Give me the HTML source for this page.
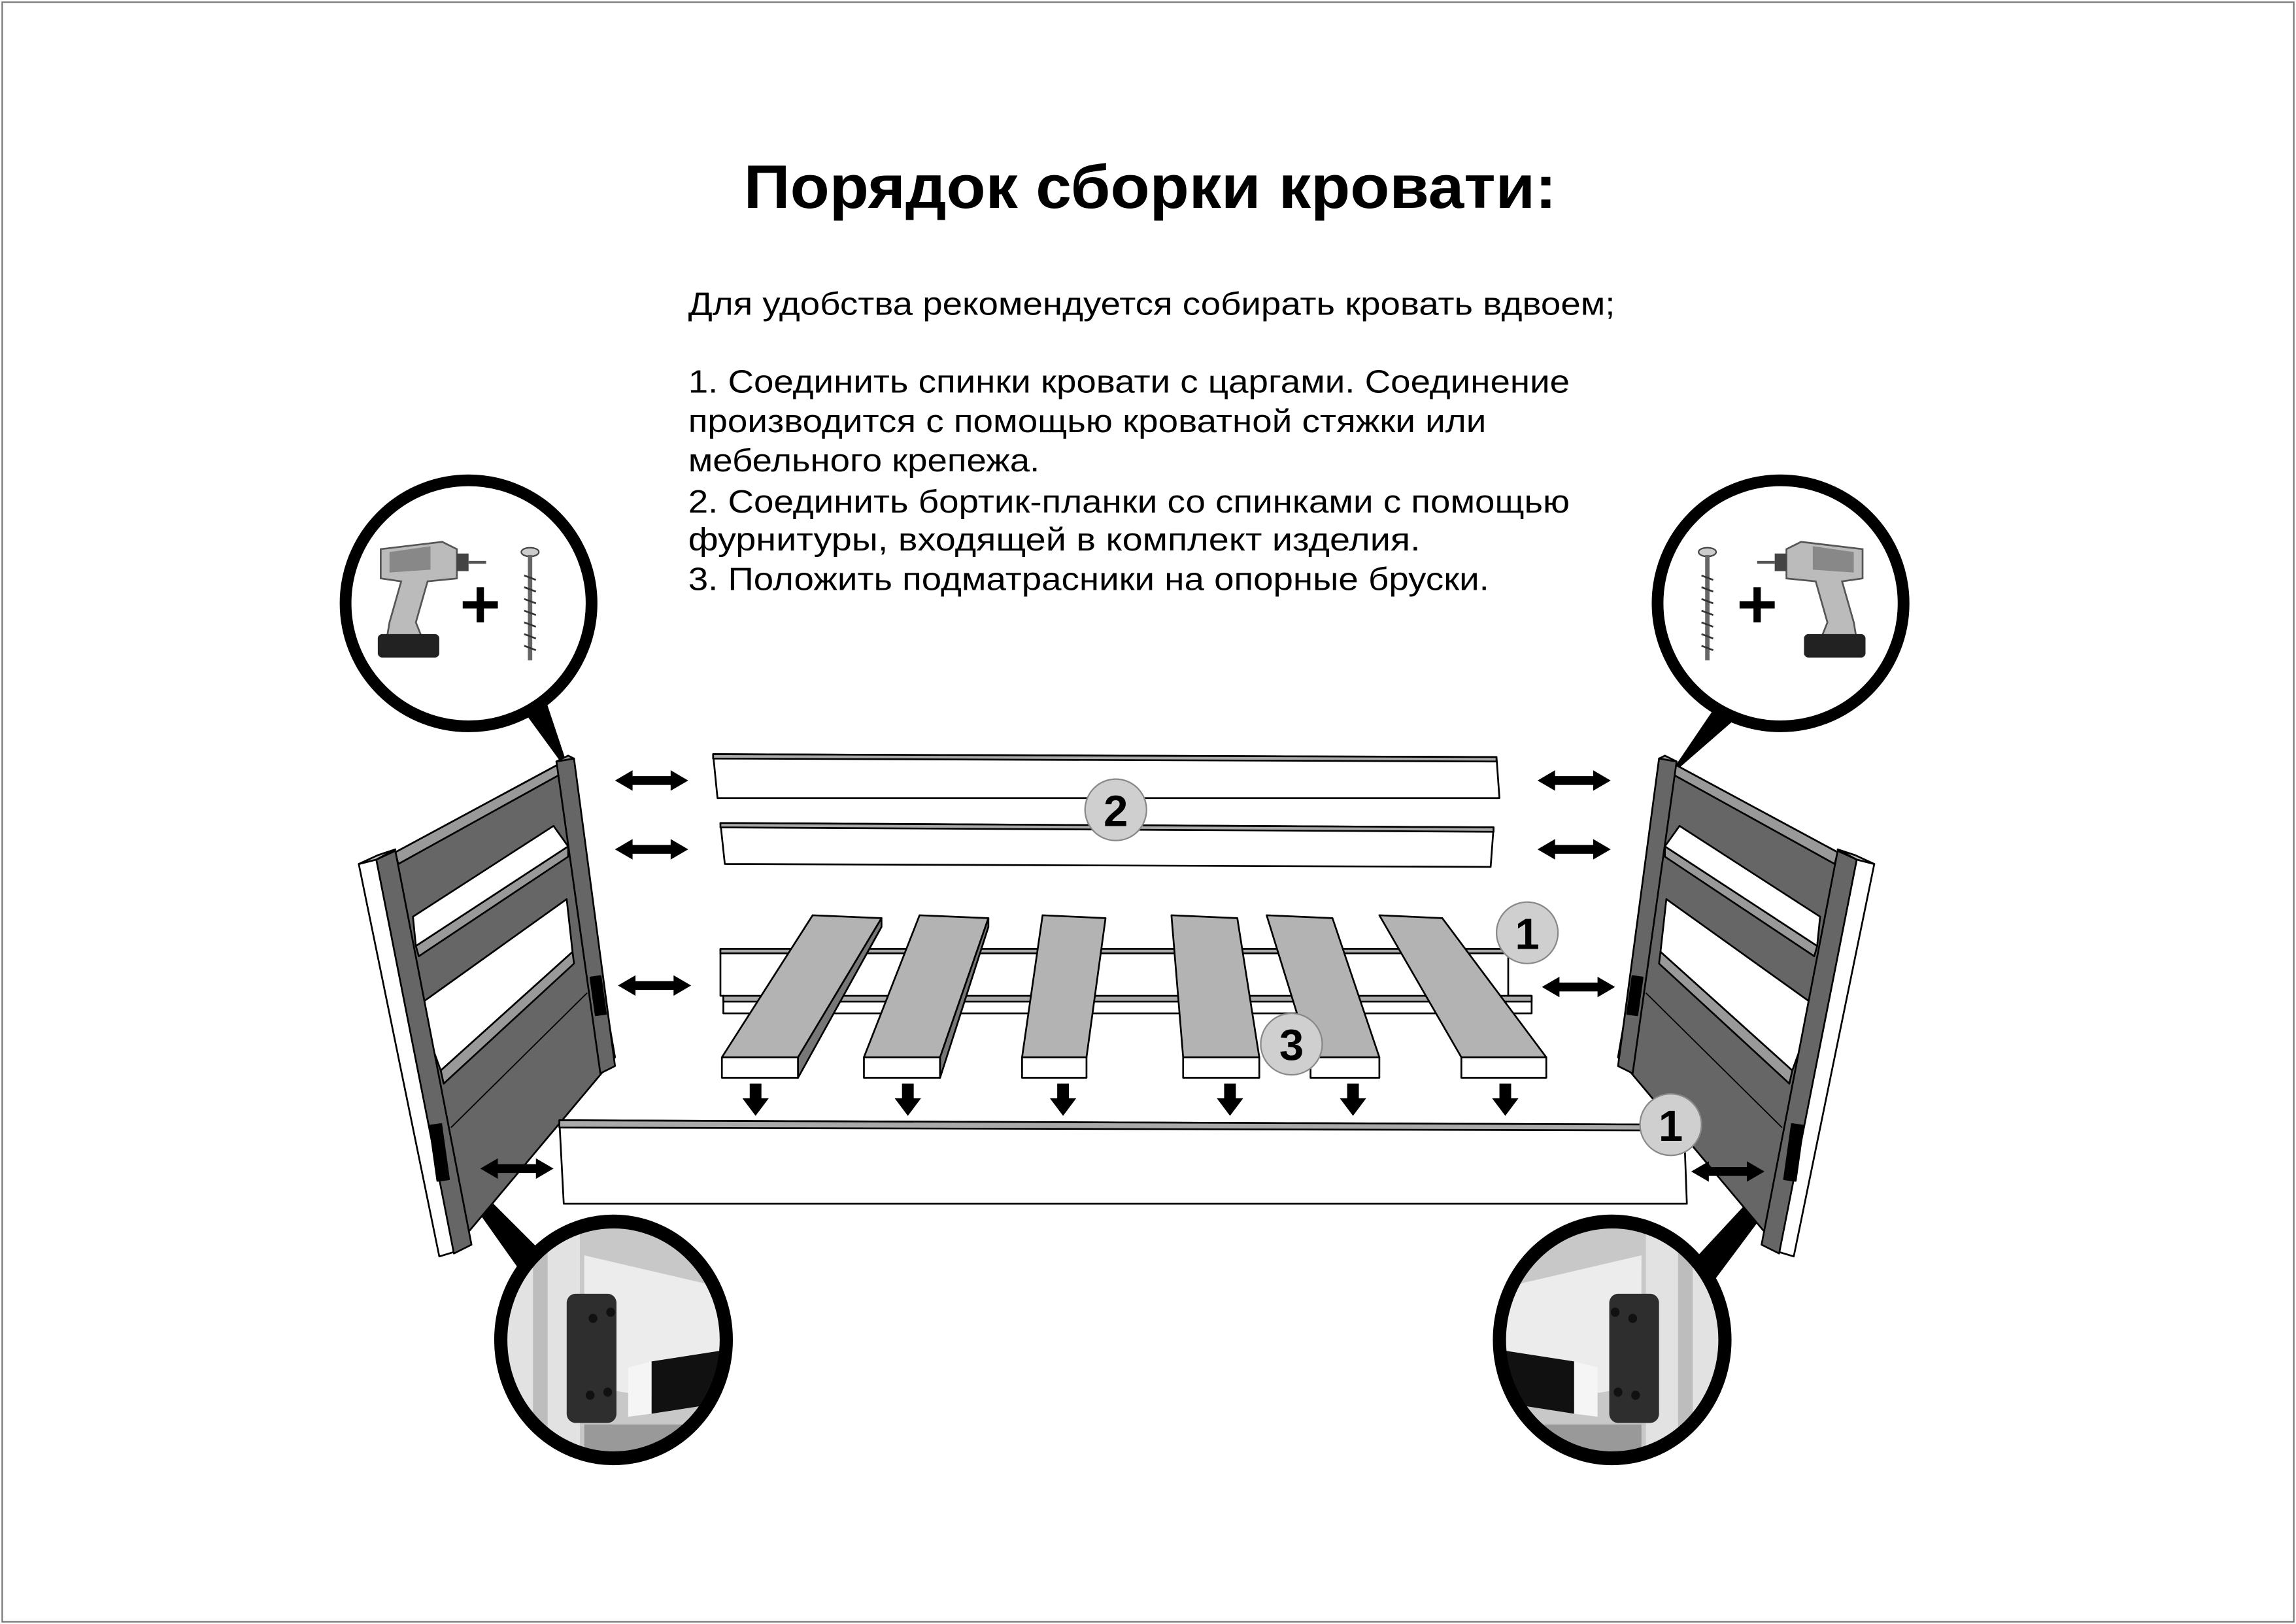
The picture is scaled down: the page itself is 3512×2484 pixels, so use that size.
<!DOCTYPE html>
<html><head><meta charset="utf-8"><style>
html,body{margin:0;padding:0;background:#fff}
svg{display:block}
text{font-family:"Liberation Sans",Arial,sans-serif}
</style></head><body>
<svg width="3512" height="2484" viewBox="0 0 1568 1109" xmlns="http://www.w3.org/2000/svg">
<defs>
<clipPath id="cc"><circle r="77"/></clipPath>
<g id="dbl"><path d="M0,0 L12,-7 L12,-3 L38,-3 L38,-7 L50,0 L38,7 L38,3 L12,3 L12,7 Z" fill="#000"/></g>
<g id="down"><path d="M-4,0 L4,0 L4,10 L9,10 L0,22 L-9,10 L-4,10 Z" fill="#000"/></g>
<g id="headboard" stroke="#000" stroke-width="1.2" stroke-linejoin="round">
  <polygon points="270,582 385,520 420,722 321,840 305,855 257,588" fill="#666"/>
  <polygon points="282,626 378,564 388,578 284,646" fill="#fff"/>
  <polygon points="285,687 387,614 391,650 301,731" fill="#fff"/>
  <polygon points="270,582 385,520 384,528 272,590" fill="#999"/>
  <polygon points="284,646 388,578 388,585 286,653" fill="#999"/>
  <polygon points="301,731 391,650 392,658 303,740" fill="#999"/>
  <line x1="308" y1="770" x2="401" y2="678" stroke-width="0.8"/>
  <polygon points="245,590 257,587 310,855 300,858" fill="#fff"/>
  <polygon points="245,590 258,584 270,580 257,587" fill="#bbb"/>
  <polygon points="257,587 270,581 322,850 310,856" fill="#666"/>
  <polygon points="380,520 392,518 420,728 410,733" fill="#666"/>
  <polygon points="380,520 388,516 392,518" fill="#999"/>
  <rect x="405" y="667" width="7" height="26" fill="#000" transform="rotate(-8 408 680)"/>
  <rect x="296" y="768" width="8" height="38" fill="#000" transform="rotate(-8 300 787)"/>
</g>
<g id="drill">
  <path d="M-62,-40 L-20,-45 L-10,-40 L-10,-20 L-30,-18 L-38,10 L-34,20 L-58,22 L-56,10 L-48,-18 L-62,-20 Z" fill="#bbb" stroke="#555" stroke-width="1.2"/>
  <rect x="-64" y="18" width="42" height="16" rx="3" fill="#222"/>
  <rect x="-10" y="-37" width="8" height="12" fill="#444"/>
  <line x1="-2" y1="-31" x2="10" y2="-31" stroke="#555" stroke-width="2"/>
  <path d="M-56,-38 L-28,-42 L-28,-26 L-56,-24Z" fill="#888"/>
</g>
<g id="screw">
  <ellipse cx="0" cy="-36" rx="6" ry="3" fill="#ccc" stroke="#444"/>
  <line x1="0" y1="-34" x2="0" y2="38" stroke="#666" stroke-width="3"/>
  <path d="M-4,-20 L4,-17 M-4,-12 L4,-9 M-4,-4 L4,-1 M-4,4 L4,7 M-4,12 L4,15 M-4,20 L4,23 M-4,28 L4,31" stroke="#333" stroke-width="1.2"/>
</g>
<g id="plus"><path d="M-12,-2.5 L12,-2.5 L12,2.5 L-12,2.5Z M-2.5,-12 L2.5,-12 L2.5,12 L-2.5,12Z" fill="#000"/></g>
<g id="photo">
  <g clip-path="url(#cc)">
  <rect x="-90" y="-90" width="180" height="180" fill="#c8c8c8"/>
  <rect x="-75" y="-80" width="52" height="170" fill="#e2e2e2"/>
  <rect x="-55" y="-80" width="10" height="170" fill="#bdbdbd"/>
  <polygon points="-20,-55 70,-35 80,45 -20,30" fill="#ececec"/>
  <rect x="-32" y="-30" width="34" height="84" rx="6" fill="#2e2e2e"/>
  <circle cx="-14" cy="-14" r="3" fill="#111"/><circle cx="-2" cy="-18" r="3" fill="#111"/>
  <circle cx="-16" cy="36" r="3" fill="#111"/><circle cx="-4" cy="34" r="3" fill="#111"/>
  <polygon points="10,18 26,14 26,48 10,50" fill="#f5f5f5"/>
  <polygon points="26,14 80,6 80,40 26,48" fill="#111"/>
  <rect x="-20" y="55" width="100" height="40" fill="#999"/>
  </g>
</g>
</defs>

<rect x="1.5" y="1.5" width="1565" height="1106" fill="#fff" stroke="#777" stroke-width="1"/>

<text x="508" y="142" font-size="42" font-weight="bold" textLength="555" lengthAdjust="spacingAndGlyphs">Порядок сборки кровати:</text>
<g font-size="22">
<text x="470" y="215" textLength="633" lengthAdjust="spacingAndGlyphs">Для удобства рекомендуется собирать кровать вдвоем;</text>
<text x="470" y="268" textLength="602" lengthAdjust="spacingAndGlyphs">1. Соединить спинки кровати с царгами. Соединение</text>
<text x="470" y="295" textLength="545" lengthAdjust="spacingAndGlyphs">производится с помощью кроватной стяжки или</text>
<text x="470" y="322" textLength="240" lengthAdjust="spacingAndGlyphs">мебельного крепежа.</text>
<text x="470" y="350" textLength="602" lengthAdjust="spacingAndGlyphs">2. Соединить бортик-планки со спинками с помощью</text>
<text x="470" y="376" textLength="500" lengthAdjust="spacingAndGlyphs">фурнитуры, входящей в комплект изделия.</text>
<text x="470" y="403" textLength="547" lengthAdjust="spacingAndGlyphs">3. Положить подматрасники на опорные бруски.</text>
</g>

<polygon points="352,478 370,470 390,530" fill="#000"/>
<polygon points="1180,470 1200,478 1138,532" fill="#000"/>
<polygon points="300,790 310,795 385,870 368,886" fill="#000"/>
<polygon points="1222,790 1230,795 1162,886 1146,872" fill="#000"/>

<circle cx="320" cy="412" r="84" fill="#fff" stroke="#000" stroke-width="8"/>
<use href="#drill" x="322" y="415"/>
<use href="#plus" x="328" y="413"/>
<use href="#screw" x="362" y="413"/>
<circle cx="1216" cy="412" r="84" fill="#fff" stroke="#000" stroke-width="8"/>
<use href="#drill" transform="translate(1210,415) scale(-1,1)"/>
<use href="#plus" x="1200" y="413"/>
<use href="#screw" x="1166" y="413"/>

<g transform="translate(419,915) scale(1,1.05)"><use href="#photo"/><circle r="77" fill="none" stroke="#000" stroke-width="9"/></g>
<g transform="translate(1101,915) scale(-1,1.05)"><use href="#photo"/><circle r="77" fill="none" stroke="#000" stroke-width="9"/></g>

<use href="#headboard"/>
<use href="#headboard" transform="translate(1525,0) scale(-1,1)"/>

<g stroke="#000" stroke-width="1.2" stroke-linejoin="round">
<polygon points="487,515 1022,517 1024,545 490,545" fill="#fff"/>
<polygon points="487,515 1022,517 1022,520 487,518" fill="#aaa"/>
<polygon points="492,562 1020,565 1018,592 495,590" fill="#fff"/>
<polygon points="492,562 1020,565 1020,568 492,565" fill="#aaa"/>
<polygon points="492,648 1030,648 1030,680 1046,680 1046,692 494,692 494,680 492,680" fill="#fff"/>
<polygon points="492,648 1030,648 1030,651 492,651" fill="#aaa"/>
<polygon points="494,680 1046,680 1046,684 494,684" fill="#aaa"/>
<polygon points="382,765 1150,768 1152,822 385,822" fill="#fff"/>
<polygon points="382,765 1150,768 1150,772 382,770" fill="#aaa"/>
<g fill="#b3b3b3">
<polygon points="555,625 602,627 545,722 493,722"/><polygon points="493,722 545,722 545,736 493,736" fill="#fff"/><polygon points="602,627 602,633 545,736 545,722" fill="#777"/>
<polygon points="628,625 675,627 642,722 590,722"/><polygon points="590,722 642,722 642,736 590,736" fill="#fff"/><polygon points="675,627 675,633 642,736 642,722" fill="#777"/>
<polygon points="712,625 755,627 742,722 698,722"/><polygon points="698,722 742,722 742,736 698,736" fill="#fff"/>
<polygon points="800,625 845,627 860,722 808,722"/><polygon points="808,722 860,722 860,736 808,736" fill="#fff"/>
<polygon points="865,625 910,627 942,722 895,722"/><polygon points="895,722 942,722 942,736 895,736" fill="#fff"/>
<polygon points="942,625 985,627 1056,722 998,722"/><polygon points="998,722 1056,722 1056,736 998,736" fill="#fff"/>
</g>
</g>

<use href="#dbl" x="420" y="533"/><use href="#dbl" x="420" y="580"/><use href="#dbl" x="422" y="673"/><use href="#dbl" x="328" y="798"/>
<use href="#dbl" x="1050" y="533"/><use href="#dbl" x="1050" y="580"/><use href="#dbl" x="1053" y="674"/><use href="#dbl" x="1155" y="800"/>
<use href="#down" x="516" y="740"/><use href="#down" x="620" y="740"/><use href="#down" x="726" y="740"/><use href="#down" x="840" y="740"/><use href="#down" x="924" y="740"/><use href="#down" x="1028" y="740"/>

<g stroke="#888" stroke-width="1" fill="#cfcfcf">
<circle cx="762" cy="553" r="21"/><circle cx="1043" cy="637" r="21"/><circle cx="882" cy="713" r="21"/><circle cx="1141" cy="768" r="21"/>
</g>
<g font-size="30" font-weight="bold" text-anchor="middle">
<text x="762" y="564">2</text><text x="1043" y="648">1</text><text x="882" y="724">3</text><text x="1141" y="779">1</text>
</g>
</svg>
</body></html>
